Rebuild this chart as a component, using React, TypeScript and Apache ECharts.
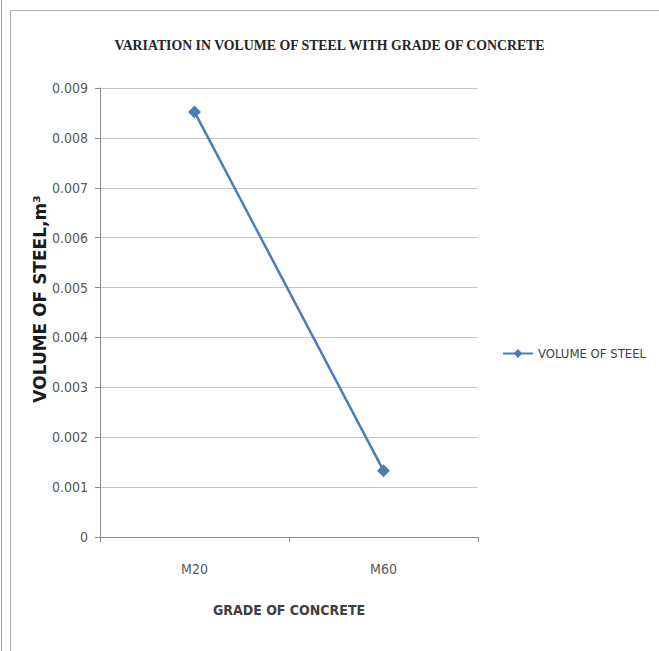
import React, { useEffect, useRef } from "react";
import * as echarts from "echarts";

const categories = ["M20", "M60"];
const volumeOfSteel = [0.00852, 0.00133];
const yTicks = [0, 0.001, 0.002, 0.003, 0.004, 0.005, 0.006, 0.007, 0.008, 0.009];

const NARROW = "'DejaVu Sans Condensed', 'Liberation Sans Narrow', 'Arial Narrow', sans-serif";

export default function App() {
  const ref = useRef<HTMLDivElement>(null);
  useEffect(() => {
    if (!ref.current) return;
    const chart = echarts.init(ref.current, undefined, { renderer: "svg" });
    chart.setOption({
      animation: false,
      backgroundColor: "#ffffff",
      title: {
        text: "VARIATION IN VOLUME OF STEEL WITH GRADE OF CONCRETE",
        left: "center",
        top: 33,
        textStyle: {
          fontFamily: "'Liberation Serif', 'Times New Roman', serif",
          fontWeight: "bold",
          fontSize: 13.8,
          color: "#262626",
        },
      },
      graphic: [
        {
          type: "rect",
          shape: { x: 10.5, y: 10.5, width: 700, height: 700 },
          style: { fill: "none", stroke: "#b0b0b0", lineWidth: 1 },
          silent: true,
        },
        {
          type: "line",
          shape: { x1: 1.5, y1: 0, x2: 1.5, y2: 651 },
          style: { stroke: "#9a9a9a", lineWidth: 1 },
          silent: true,
        },
        {
          type: "text",
          x: 40,
          y: 299,
          rotation: Math.PI / 2,
          style: {
            text: "VOLUME OF STEEL,m\u00b3",
            fontFamily: "'DejaVu Sans', Verdana, sans-serif",
            fontWeight: "bold",
            fontSize: 17,
            fill: "#1a1a1a",
            align: "center",
            verticalAlign: "middle",
          },
          silent: true,
        },
      ],
      legend: {
        data: ["VOLUME OF STEEL"],
        orient: "vertical",
        left: 497,
        top: 342,
        itemWidth: 30,
        itemHeight: 11,
        itemGap: 6,
        textStyle: { fontFamily: NARROW, fontSize: 13, color: "#404040" },
      },
      grid: { left: 100, right: 181, top: 88, bottom: 114 },
      xAxis: {
        type: "category",
        data: categories,
        boundaryGap: true,
        name: "GRADE OF CONCRETE",
        nameLocation: "middle",
        nameGap: 66,
        nameTextStyle: {
          fontFamily: NARROW,
          fontWeight: "bold",
          fontSize: 14,
          color: "#404040",
        },
        axisLine: { lineStyle: { color: "#8c8c8c" } },
        axisTick: { show: true, length: 5, lineStyle: { color: "#8c8c8c" } },
        axisLabel: { fontFamily: NARROW, fontSize: 14, color: "#595959", margin: 25 },
      },
      yAxis: {
        type: "value",
        min: 0,
        max: 0.009,
        interval: 0.001,
        axisLine: { show: true, lineStyle: { color: "#8c8c8c" } },
        axisTick: { show: true, length: 5, lineStyle: { color: "#8c8c8c" } },
        splitLine: { lineStyle: { color: "#c6c6c6" } },
        axisLabel: {
          fontFamily: NARROW,
          fontSize: 14,
          color: "#595959",
          margin: 12,
          formatter: (v: number) => {
            const t = yTicks.find((x) => Math.abs(x - v) < 1e-9);
            return t === 0 ? "0" : (t ?? v).toFixed(3);
          },
        },
      },
      series: [
        {
          name: "VOLUME OF STEEL",
          type: "line",
          data: volumeOfSteel,
          symbol: "diamond",
          symbolSize: 13,
          lineStyle: { color: "#4a7ebb", width: 2.5 },
          itemStyle: { color: "#4a7ebb" },
        },
      ],
    });
    return () => chart.dispose();
  }, []);
  return (
    <div
      ref={ref}
      style={{ position: "fixed", left: 0, top: 0, width: 659, height: 651 }}
    />
  );
}
